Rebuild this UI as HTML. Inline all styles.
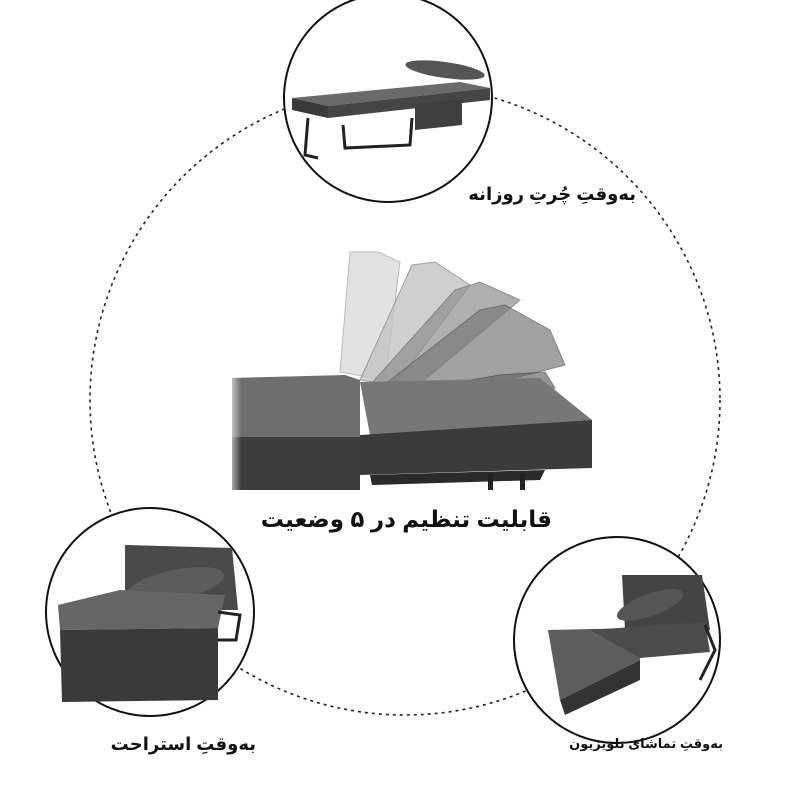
<!DOCTYPE html>
<html><head><meta charset="utf-8"><style>
html,body{margin:0;padding:0;background:#fff}
.w{position:relative;width:800px;height:800px;overflow:hidden;background:#fff}
.t{position:absolute;font-family:"Liberation Sans","DejaVu Sans",sans-serif;font-weight:bold;color:#111;direction:rtl;white-space:nowrap}
</style></head><body><div class="w">
<svg width="800" height="800" style="position:absolute;left:0;top:0">
<defs>
<linearGradient id="fade" x1="0" x2="1"><stop offset="0" stop-color="#fff" stop-opacity="1"/><stop offset="0.18" stop-color="#fff" stop-opacity="0"/></linearGradient>
</defs>
<circle cx="405" cy="400" r="315" fill="none" stroke="#222" stroke-width="1.6" stroke-dasharray="3,4"/>
<circle cx="388" cy="98" r="104" fill="#fff" stroke="#111" stroke-width="2"/>
<circle cx="150" cy="612" r="104" fill="#fff" stroke="#111" stroke-width="2"/>
<circle cx="617" cy="640" r="103" fill="#fff" stroke="#111" stroke-width="2"/>
<g>
<polygon points="292,98 460,82 490,88 328,106" fill="#6a6a6a"/>
<polygon points="292,98 328,106 328,118 292,110" fill="#3a3a3a"/>
<polygon points="328,106 490,88 490,100 328,118" fill="#454545"/>
<polygon points="415,104 462,99 462,125 415,130" fill="#3f3f3f"/>
<ellipse cx="445" cy="70" rx="40" ry="8" fill="#555" transform="rotate(8 445 70)"/>
<path d="M308,118 L305,155 L318,158 M343,125 L345,148 L410,145 L412,118" fill="none" stroke="#222" stroke-width="3"/>
</g>
<g>
<polygon points="125,545 232,548 238,610 125,610" fill="#4a4a4a"/>
<ellipse cx="175" cy="585" rx="50" ry="15" fill="#5c5c5c" transform="rotate(-12 175 585)"/>
<polygon points="58,605 120,590 225,595 218,628 60,630" fill="#666"/>
<polygon points="60,630 218,628 218,700 62,702" fill="#3a3a3a"/>
<path d="M218,612 L240,615 L236,640 L218,640" fill="none" stroke="#222" stroke-width="3"/>
</g>
<g>
<polygon points="622,575 702,575 710,630 625,630" fill="#444"/>
<ellipse cx="650" cy="605" rx="35" ry="11" fill="#555" transform="rotate(-20 650 605)"/>
<polygon points="548,630 638,628 640,660 560,700" fill="#5e5e5e"/>
<polygon points="560,700 640,660 640,680 565,715" fill="#333"/>
<polygon points="590,630 705,622 710,652 640,658" fill="#4c4c4c"/>
<path d="M705,625 L715,650 L700,680" fill="none" stroke="#222" stroke-width="3"/>
</g>
<g>
<polygon points="340,372 350,252 378,252 400,262 385,380" fill="#e2e2e2" stroke="#bbb"/>
<polygon points="360,380 412,265 435,262 470,285 395,385" fill="#c4c4c4" opacity="0.8" stroke="#888"/>
<polygon points="370,385 455,290 480,282 520,300 410,392" fill="#8e8e8e" opacity="0.7" stroke="#666"/>
<polygon points="375,392 480,310 505,305 550,330 565,365 430,400" fill="#7a7a7a" opacity="0.7" stroke="#555"/>
<polygon points="378,396 500,375 545,372 555,388 430,420" fill="#6a6a6a" opacity="0.7" stroke="#444"/>
<polygon points="232,378 345,375 360,380 360,437 232,437" fill="#6e6e6e"/>
<polygon points="360,382 540,378 592,420 370,435" fill="#777"/>
<polygon points="232,437 360,437 360,490 232,490" fill="#3d3d3d"/>
<polygon points="360,435 592,420 592,468 360,475" fill="#3b3b3b"/>
<polygon points="370,475 545,470 540,480 372,485" fill="#2a2a2a"/>
<rect x="488" y="473" width="5" height="17" fill="#222"/>
<rect x="520" y="473" width="5" height="17" fill="#222"/>
<rect x="225" y="360" width="90" height="140" fill="url(#fade)"/>
</g>
</svg>
<div class="t" style="right:164px;top:184px;font-size:18px">بەوقتِ چُرتِ روزانه</div>
<div class="t" style="left:262px;top:506px;width:290px;text-align:center;font-size:23px">قابلیت تنظیم در ۵ وضعیت</div>
<div class="t" style="right:544px;top:734px;font-size:18px">بەوقتِ استراحت</div>
<div class="t" style="right:77px;top:736px;font-size:13px">بەوقتِ تماشای تلویزیون</div>
</div></body></html>
